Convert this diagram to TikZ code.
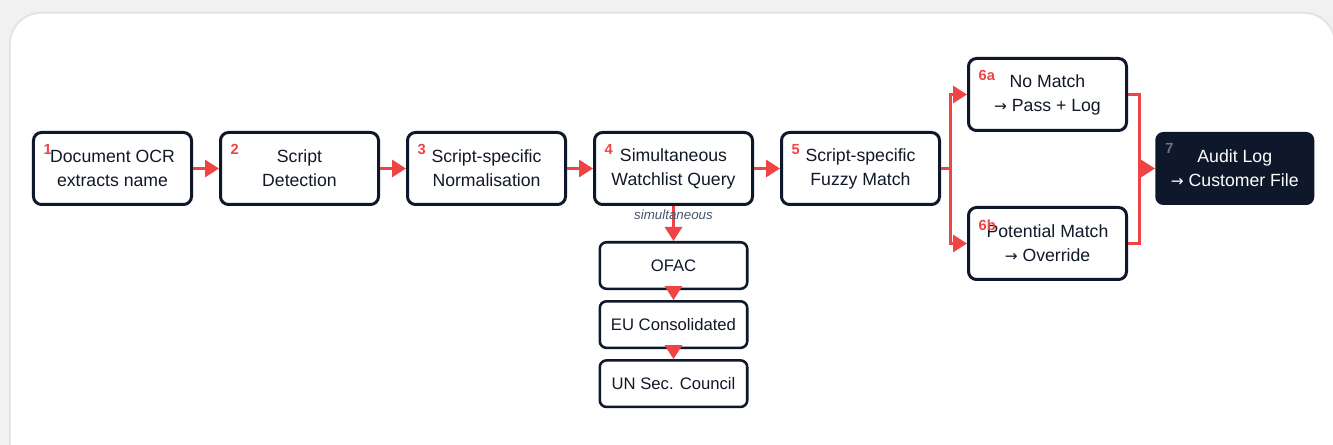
\documentclass[tikz,border=0pt]{standalone}
\usepackage{fontspec}
\setmainfont{Liberation Sans}
\newfontfamily\arrowfont{DejaVu Sans}
\newcommand{\toarrow}{{\arrowfont\fontsize{11.5}{18}\selectfont →}}
\usetikzlibrary{arrows.meta, positioning, calc}

\definecolor{navy}{HTML}{0F172A}
\definecolor{ink}{HTML}{111827}
\definecolor{alert}{HTML}{EF4444}
\definecolor{hintgray}{HTML}{475569}
\definecolor{numgray}{HTML}{6B7280}
\definecolor{paper}{HTML}{F1F1F1}

\begin{document}
\begin{tikzpicture}[x=1pt, y=1pt,
    stage/.style={draw=navy, line width=2.25pt, rounded corners=6pt, fill=white, text=ink,
        minimum width=118.5pt, minimum height=54pt, align=center,
        font=\fontsize{13.25}{18}\selectfont},
    list/.style={draw=navy, line width=1.9pt, rounded corners=5pt, fill=white, text=ink,
        minimum width=110.6pt, minimum height=34.9pt, font=\fontsize{12.5}{15}\selectfont},
    final/.style={fill=navy, text=white, rounded corners=6pt, minimum width=119.25pt,
        minimum height=54.75pt, align=center, font=\fontsize{13.25}{18}\selectfont},
    num/.style={text=alert, font=\bfseries\fontsize{11}{11}\selectfont, inner sep=0pt, anchor=north west},
    hint/.style={text=hintgray, font=\itshape\fontsize{10}{12}\selectfont, inner sep=1pt},
    flow/.style={draw=alert, line width=2.25pt, -{Triangle[length=10.5pt, width=12.75pt]}},
    wire/.style={draw=alert, line width=2.25pt}]

    % Page and card
    \useasboundingbox (-84.375,-207.375) rectangle (915.375,126.375);
    \fill[paper] (-84.375,-207.375) rectangle (915.375,126.375);
    \fill[black, opacity=0.05, rounded corners=24pt] (-77.6,-230) rectangle (917.6,117.6);
    \fill[white, rounded corners=22.5pt] (-76.125,-230) rectangle (916.1,115.875);

    % Main row of steps
    \node (ocr) [stage] {Document OCR\\extracts name};
    \node (detect) [stage, right=19.5pt of ocr] {Script\\Detection};
    \node (normal) [stage, right=19.5pt of detect] {Script-specific\\Normalisation};
    \node (query) [stage, right=19.5pt of normal] {Simultaneous\\Watchlist Query};
    \node (fuzzy) [stage, right=19.5pt of query] {Script-specific\\Fuzzy Match};

    % Outcomes and audit
    \node (nomatch) [stage, right=19.5pt of fuzzy, yshift=55.5pt] {No Match\\\toarrow{} Pass + Log};
    \node (potential) [stage, right=19.5pt of fuzzy, yshift=-56.25pt] {Potential Match\\\toarrow{} Override};
    \coordinate (fork) at ($(fuzzy.east)+(6.75pt,0)$);
    \coordinate (join) at ($(nomatch.east)+(8.25pt,0)$);
    \node (audit) [final, anchor=west] at ($(fuzzy.east -| nomatch.east)+(20.25pt,0)$) {Audit Log\\\toarrow{} Customer File};

    % Watchlists queried together
    \node (ofac) [list, below=26.25pt of query] {OFAC};
    \node (eu) [list, below=7.5pt of ofac] {EU Consolidated};
    \node (un) [list, below=7.5pt of eu] {UN Sec. Council};

    % Step numbers
    \node (n1) [num] at ([shift={(8.5pt,-10pt)}]ocr.north west) {1};
    \node (n2) [num] at ([shift={(8.5pt,-10pt)}]detect.north west) {2};
    \node (n3) [num] at ([shift={(8.5pt,-10pt)}]normal.north west) {3};
    \node (n4) [num] at ([shift={(8.5pt,-10pt)}]query.north west) {4};
    \node (n5) [num] at ([shift={(8.5pt,-10pt)}]fuzzy.north west) {5};
    \node (n6a) [num] at ([shift={(8.5pt,-10pt)}]nomatch.north west) {6a};
    \node (n6b) [num] at ([shift={(8.5pt,-10pt)}]potential.north west) {6b};
    \node (n7) [num, text=numgray] at ([shift={(7.5pt,-8.25pt)}]audit.north west) {7};

    % Connectors
    \draw[flow] (ocr.east) -- (detect.west);
    \draw[flow] (detect.east) -- (normal.west);
    \draw[flow] (normal.east) -- (query.west);
    \draw[flow] (query.east) -- (fuzzy.west);
    \draw[wire] (fuzzy.east) -- (fork);
    \draw[flow] (fork) |- (nomatch.west);
    \draw[flow] (fork) |- (potential.west);
    \draw[wire] (nomatch.east) -- (join) |- (potential.east);
    \draw[flow] (join |- audit.west) -- (audit.west);
    \draw[flow] (query.south) -- node[pos=0.26, hint] {simultaneous} (ofac.north);
    \draw[flow] (ofac.south) -- (eu.north);
    \draw[flow] (eu.south) -- (un.north);

\end{tikzpicture}
\end{document}
